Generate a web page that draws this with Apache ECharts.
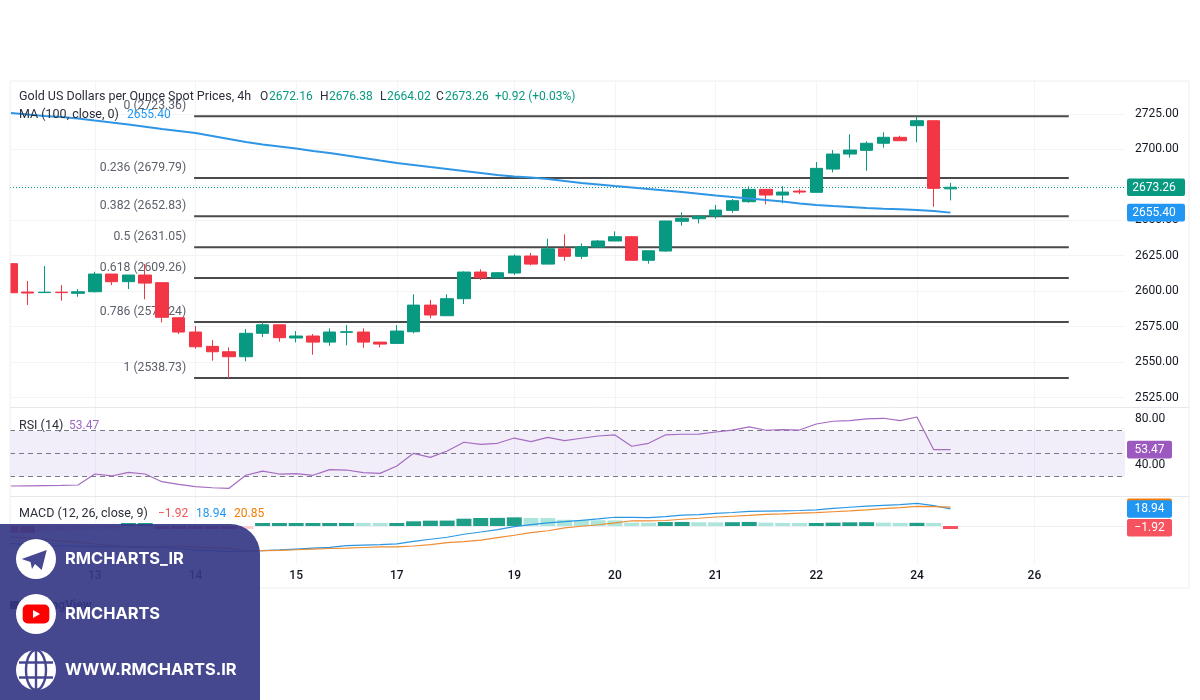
<!DOCTYPE html>
<html>
<head>
<meta charset="utf-8">
<title>Gold US Dollars per Ounce Spot Prices</title>
<script src="https://cdn.jsdelivr.net/npm/echarts@6/dist/echarts.min.js"></script>
<style>
    html, body { margin: 0; padding: 0; background: #fff; }
    #chart { width: 1200px; height: 700px; }
</style>
</head>
<body>
<div id="chart"></div>
<script>
// 4h bars
var openPrices = [
    2619.4, 2599.4, 2599.0, 2599.3, 2598.5, 2599.6, 2612.1, 2606.7, 2611.4, 2606.0,
    2581.3, 2571.2, 2561.1, 2557.3, 2553.8, 2570.3, 2576.3, 2567.0, 2568.4, 2564.1,
    2571.0, 2571.2, 2564.1, 2563.2, 2571.4, 2590.2, 2582.7, 2594.7, 2613.5, 2609.5,
    2612.8, 2624.8, 2619.1, 2629.9, 2624.6, 2631.1, 2635.4, 2638.4, 2621.8, 2628.3,
    2649.3, 2651.1, 2653.0, 2657.0, 2663.1, 2671.8, 2667.8, 2670.6, 2669.7, 2686.1,
    2696.7, 2699.3, 2704.3, 2708.5, 2716.7, 2720.2, 2672.16
];
var closePrices = [
    2598.9, 2598.7, 2599.3, 2599.0, 2599.6, 2612.1, 2606.7, 2611.4, 2605.7, 2581.6,
    2571.2, 2560.8, 2557.3, 2553.8, 2570.3, 2576.3, 2567.2, 2568.4, 2564.1, 2571.2,
    2571.4, 2564.1, 2562.7, 2571.9, 2590.2, 2583.2, 2594.7, 2613.5, 2609.5, 2613.0,
    2624.8, 2619.1, 2629.9, 2624.6, 2631.3, 2635.4, 2638.4, 2621.8, 2628.5, 2649.5,
    2651.4, 2652.8, 2657.2, 2663.8, 2671.8, 2667.8, 2669.9, 2669.9, 2686.6, 2696.7,
    2699.5, 2704.3, 2708.5, 2706.1, 2720.2, 2672.5, 2673.26
];
var lowPrices = [
    2598.9, 2590.2, 2598.7, 2593.3, 2596.1, 2599.2, 2604.3, 2601.5, 2594.3, 2578.0,
    2569.8, 2559.4, 2551.0, 2538.7, 2550.5, 2567.7, 2564.4, 2563.9, 2555.2, 2561.5,
    2561.8, 2560.1, 2560.4, 2563.2, 2570.3, 2580.9, 2582.7, 2590.9, 2607.9, 2609.1,
    2611.4, 2618.2, 2619.1, 2621.5, 2622.7, 2631.1, 2635.4, 2621.8, 2619.4, 2627.8,
    2646.2, 2647.8, 2651.1, 2655.3, 2662.4, 2661.2, 2661.9, 2668.5, 2669.7, 2683.8,
    2694.1, 2684.9, 2701.2, 2706.1, 2705.0, 2659.6, 2664.02
];
var highPrices = [
    2619.4, 2607.2, 2617.7, 2604.3, 2601.5, 2613.7, 2612.1, 2611.4, 2619.1, 2606.0,
    2581.3, 2575.4, 2565.5, 2560.4, 2573.3, 2578.0, 2576.3, 2571.9, 2569.8, 2573.8,
    2576.1, 2573.8, 2564.1, 2576.1, 2597.8, 2593.8, 2597.8, 2614.0, 2615.4, 2613.5,
    2626.0, 2626.9, 2637.0, 2640.1, 2633.7, 2636.1, 2642.2, 2638.9, 2628.5, 2649.5,
    2655.6, 2653.7, 2660.8, 2665.0, 2673.9, 2671.8, 2674.1, 2672.2, 2691.1, 2699.5,
    2710.6, 2705.7, 2712.0, 2709.6, 2723.3, 2720.2, 2676.38
];
var maValues = [
    2725.6, 2724.6, 2723.5, 2722.8, 2721.8, 2720.3, 2718.9, 2717.5, 2715.9, 2714.3,
    2712.9, 2711.5, 2709.4, 2707.3, 2705.2, 2703.4, 2702.0, 2700.6, 2698.8, 2697.4,
    2695.7, 2693.9, 2692.1, 2690.4, 2689.0, 2687.5, 2686.1, 2684.7, 2683.3, 2681.9,
    2680.8, 2680.1, 2679.1, 2677.7, 2676.3, 2675.2, 2674.1, 2673.1, 2672.0, 2671.0,
    2669.9, 2668.7, 2667.5, 2666.4, 2665.3, 2664.3, 2663.2, 2661.8, 2660.8, 2660.0,
    2659.3, 2658.6, 2658.1, 2657.7, 2657.2, 2656.5, 2655.4
];
var rsiValues = [
    21.6, 21.8, 22.0, 22.1, 22.5, 32.1, 30.4, 33.6, 32.1, 25.4,
    23.1, 21.0, 20.1, 19.6, 31.0, 34.7, 32.1, 32.4, 31.0, 35.9,
    35.6, 33.3, 32.7, 39.1, 50.2, 46.7, 52.3, 59.9, 58.1, 59.0,
    63.6, 60.4, 64.2, 61.3, 63.4, 65.4, 66.3, 56.4, 59.0, 66.3,
    66.9, 67.1, 68.9, 70.6, 73.3, 70.4, 70.9, 70.6, 75.9, 78.3,
    78.8, 80.3, 80.9, 78.8, 82.0, 53.4, 53.47
];
var histValues = [
    -7.5, -7.6, -6.5, -5.5, -4.5, -3.0, -1.5, 0.5, 0.6, -1.0,
    -2.5, -3.0, -3.2, -3.3, -1.0, 0.4, 0.5, 0.8, 1.0, 1.3,
    2.8, 2.7, 2.6, 3.3, 5.2, 5.9, 6.0, 8.1, 8.9, 9.0,
    9.6, 8.9, 8.8, 6.9, 6.6, 6.4, 6.2, 3.7, 3.6, 4.4,
    4.5, 4.1, 4.0, 4.2, 4.5, 3.7, 3.4, 3.0, 3.1, 3.7,
    4.1, 4.2, 3.7, 3.4, 3.5, 1.1, -1.92
];
var macdValues = [
    -19.5, -20.5, -21.5, -22.0, -22.5, -23.0, -23.0, -23.0, -23.0, -23.5,
    -25.0, -26.5, -27.5, -28.5, -28.0, -27.4, -26.6, -25.6, -24.6, -23.7,
    -21.8, -21.2, -20.6, -19.8, -17.0, -14.7, -12.5, -9.2, -6.7, -4.0,
    -0.7, 1.5, 3.5, 4.8, 6.3, 7.8, 9.7, 9.5, 9.3, 10.5,
    12.0, 12.7, 14.0, 15.0, 16.2, 16.6, 16.9, 17.2, 17.9, 19.5,
    20.8, 22.0, 23.0, 23.8, 25.2, 22.6, 18.94
];
var signalValues = [
    -12.0, -13.5, -15.0, -16.5, -18.0, -20.0, -21.5, -23.5, -23.6, -22.5,
    -22.5, -23.5, -24.3, -25.2, -27.0, -27.4, -27.0, -26.4, -25.6, -25.0,
    -24.6, -23.9, -23.2, -23.1, -22.2, -20.6, -18.5, -17.3, -15.6, -13.0,
    -10.3, -7.4, -5.3, -2.1, -0.3, 1.4, 3.5, 5.8, 5.7, 6.1,
    7.5, 8.6, 10.0, 10.8, 11.7, 12.9, 13.5, 14.2, 14.8, 15.8,
    16.7, 17.8, 19.3, 20.4, 21.7, 21.5, 20.85
];
var fibRatios = ['0', '0.236', '0.382', '0.5', '0.618', '0.786', '1'];
var fibPrices = [2723.36, 2679.79, 2652.83, 2631.05, 2609.26, 2578.24, 2538.73];
var fibSpan = [10.92, 63.05];
var dayTicks = [5, 11, 17, 23, 30, 36, 42, 48, 54, 61];
var dayLabels = ['13', '14', '15', '17', '19', '20', '21', '22', '24', '26'];
var priceTicks = [2525, 2550, 2575, 2600, 2625, 2650, 2675, 2700, 2725];
var rsiTicks = [40, 80];
var rsiLevels = [30, 50, 70];

var FONT = 'Roboto';
var UP = '#089981';
var DOWN = '#f23645';
var GRID_LINE = '#f3f4f6';

function withIndex(values) {
    return values.map(function (v, i) { return [i, v]; });
}

function histColor(params) {
    var i = params.dataIndex;
    var v = histValues[i];
    var prev = i > 0 ? histValues[i - 1] : v;
    if (v >= 0) {
        return v >= prev ? '#1f9e88' : '#ace5dc';
    }
    return v <= prev ? '#f7525f' : '#ffcdd2';
}

function makeXAxis(gridIndex, showLabels) {
    return {
        type: 'value',
        gridIndex: gridIndex,
        min: -0.055,
        max: 66.4,
        axisLine: { show: false },
        axisTick: { show: false, customValues: dayTicks },
        splitLine: { show: true, lineStyle: { color: GRID_LINE, width: 1 } },
        axisLabel: {
            show: showLabels,
            customValues: dayTicks,
            margin: 7,
            color: '#131722',
            fontFamily: FONT,
            fontSize: 12,
            fontWeight: 500,
            formatter: function (v) {
                return dayLabels[dayTicks.indexOf(v)];
            }
        }
    };
}

function makeFibSeries() {
    return fibPrices.map(function (price, i) {
        return {
            type: 'line',
            z: 2,
            silent: true,
            symbol: 'circle',
            symbolSize: 0,
            showSymbol: true,
            lineStyle: { color: '#4a4a4a', width: 2 },
            itemStyle: { color: '#4a4a4a' },
            data: [
                {
                    value: [fibSpan[0], price],
                    label: {
                        show: true,
                        position: 'left',
                        offset: [-3, -10],
                        color: '#5d606b',
                        fontFamily: FONT,
                        fontSize: 12.2,
                        formatter: fibRatios[i] + ' (' + price.toFixed(2) + ')'
                    }
                },
                { value: [fibSpan[1], price] }
            ]
        };
    });
}

function legendText(x, y, text, color, size) {
    return {
        type: 'text',
        z: 20,
        silent: true,
        style: {
            x: x,
            y: y,
            text: text,
            fill: color,
            font: (size || 12) + 'px ' + FONT,
            textVerticalAlign: 'middle'
        }
    };
}

function axisTag(yAxisIndex, value, text, color, width, z) {
    var y = chart.convertToPixel({ yAxisIndex: yAxisIndex }, value);
    return [
        {
            type: 'rect',
            z: z,
            silent: true,
            shape: { x: 1127, y: y - 8.8, width: width, height: 17.6, r: 2 },
            style: { fill: color }
        },
        {
            type: 'text',
            z: z,
            zlevel: 0,
            silent: true,
            style: {
                x: 1127 + width / 2 + (width > 50 ? -2 : 0),
                y: y + 0.5,
                text: text,
                fill: '#fff',
                font: '12px ' + FONT,
                textAlign: 'center',
                textVerticalAlign: 'middle'
            }
        }
    ];
}

function makeGraphic() {
    var items = [
        // the first bar is cut by the pane edge
        { type: 'rect', z: 4, silent: true, shape: { x: 0, y: 81, width: 10, height: 507 },
            style: { fill: '#fff' } },
        // pane frame and separators
        { type: 'rect', z: 5, silent: true, shape: { x: 10, y: 81, width: 1179, height: 507 },
            style: { fill: 'none', stroke: '#eceef2', lineWidth: 1 } },
        { type: 'line', z: 5, silent: true, shape: { x1: 10, y1: 407.5, x2: 1189, y2: 407.5 },
            style: { stroke: '#e6e8ec', lineWidth: 1 } },
        { type: 'line', z: 5, silent: true, shape: { x1: 10, y1: 496.5, x2: 1189, y2: 496.5 },
            style: { stroke: '#e6e8ec', lineWidth: 1 } },

        legendText(19, 97, 'Gold US Dollars per Ounce Spot Prices, 4h', '#2a2e39', 12.5),
        legendText(260, 97, 'O', '#2a2e39'),
        legendText(269, 97, '2672.16', UP),
        legendText(320, 97, 'H', '#2a2e39'),
        legendText(329, 97, '2676.38', UP),
        legendText(380, 97, 'L', '#2a2e39'),
        legendText(387, 97, '2664.02', UP),
        legendText(436, 97, 'C', '#2a2e39'),
        legendText(445, 97, '2673.26', UP),
        legendText(495, 97, '+0.92 (+0.03%)', UP),
        legendText(19, 115, 'MA (100, close, 0)', '#2a2e39', 12.5),
        legendText(127, 115, '2655.40', '#2196f3'),
        legendText(19, 426, 'RSI (14)', '#2a2e39', 12.5),
        legendText(69, 426, '53.47', '#9c6bc0'),
        legendText(19, 514, 'MACD (12, 26, close, 9)', '#2a2e39', 12.5),
        legendText(158, 514, '\u22121.92', '#ef5350'),
        legendText(196, 514, '18.94', '#2196f3'),
        legendText(234, 514, '20.85', '#f57c00')
    ];

    items = items.concat(
        axisTag(0, closePrices[closePrices.length - 1], '2673.26', UP, 58, 30),
        axisTag(0, maValues[maValues.length - 1], '2655.40', '#2196f3', 58, 30),
        axisTag(1, rsiValues[rsiValues.length - 1], '53.47', '#9c59c0', 45, 30),
        axisTag(2, signalValues[signalValues.length - 1], '20.85', '#f57c00', 45, 28),
        axisTag(2, macdValues[macdValues.length - 1], '18.94', '#2196f3', 45, 30),
        axisTag(2, histValues[histValues.length - 1], '\u22121.92', '#f7525f', 45, 30)
    );

    // TradingView credit, mostly hidden under the banner
    items.push({ type: 'rect', z: 25, silent: true, shape: { x: 10, y: 601, width: 9, height: 8 },
        style: { fill: '#131722' } });
    items.push({ type: 'text', z: 25, silent: true,
        style: { x: 24, y: 606, text: 'TradingView', fill: '#131722', font: 'bold 12px ' + FONT, textVerticalAlign: 'middle' } });

    // banner
    var bannerText = [['RMCHARTS_IR', 559], ['RMCHARTS', 614], ['WWW.RMCHARTS.IR', 670]];
    items.push({ type: 'rect', z: 40, silent: true, shape: { x: 0, y: 524, width: 260, height: 176, r: [0, 30, 0, 0] },
        style: { fill: '#353786', opacity: 0.92 } });
    bannerText.forEach(function (row) {
        items.push({ type: 'circle', z: 41, silent: true, shape: { cx: 36, cy: row[1], r: 20 }, style: { fill: '#fff' } });
        items.push({ type: 'text', z: 42, silent: true,
            style: { x: 65, y: row[1], text: row[0], fill: '#fff', font: '700 16.4px Inter', textVerticalAlign: 'middle' } });
    });
    items.push({ type: 'polygon', z: 42, silent: true,
        shape: { points: [[21.7, 559], [46.7, 550], [41.7, 570], [35, 564], [32, 569], [30.5, 562]] },
        style: { fill: '#454790' } });
    items.push({ type: 'rect', z: 42, silent: true, shape: { x: 22.7, y: 604.5, width: 26.6, height: 19, r: 5 },
        style: { fill: '#f00' } });
    items.push({ type: 'polygon', z: 43, silent: true,
        shape: { points: [[33, 610], [33, 618], [40, 614]] }, style: { fill: '#fff' } });
    var globeLine = { fill: 'none', stroke: '#454790', lineWidth: 2.4 };
    items.push({ type: 'ellipse', z: 42, silent: true, shape: { cx: 36, cy: 670, rx: 10, ry: 20 }, style: globeLine });
    items.push({ type: 'line', z: 42, silent: true, shape: { x1: 36, y1: 650, x2: 36, y2: 690 }, style: globeLine });
    items.push({ type: 'line', z: 42, silent: true, shape: { x1: 19, y1: 662.5, x2: 53, y2: 662.5 }, style: globeLine });
    items.push({ type: 'line', z: 42, silent: true, shape: { x1: 19, y1: 677.5, x2: 53, y2: 677.5 }, style: globeLine });
    return items;
}

var chart = echarts.init(document.getElementById('chart'), null, { renderer: 'canvas' });

var candleData = openPrices.map(function (o, i) {
    return [i, o, closePrices[i], lowPrices[i], highPrices[i]];
});

var priceLabel = {
    customValues: priceTicks,
    margin: 10,
    padding: [2, 0, 0, 0],
    color: '#131722',
    fontFamily: FONT,
    fontSize: 12,
    formatter: function (v) { return v.toFixed(2); }
};

var option = {
    animation: false,
    backgroundColor: '#fff',
    textStyle: { fontFamily: FONT },
    grid: [
        { left: 10, width: 1115, top: 81, height: 326.5 },
        { left: 10, width: 1115, top: 408, height: 88.7 },
        { left: 10, width: 1115, top: 497, height: 66 }
    ],
    xAxis: [makeXAxis(0, false), makeXAxis(1, false), makeXAxis(2, true)],
    yAxis: [
        {
            type: 'value',
            gridIndex: 0,
            position: 'right',
            min: 2518,
            max: 2748.2,
            axisLine: { show: false },
            axisTick: { show: false, customValues: priceTicks },
            splitLine: { show: true, lineStyle: { color: GRID_LINE } },
            axisLabel: priceLabel
        },
        {
            type: 'value',
            gridIndex: 1,
            position: 'right',
            min: 12.25,
            max: 89.9,
            axisLine: { show: false },
            axisTick: { show: false, customValues: rsiTicks },
            splitLine: { show: false },
            axisLabel: {
                customValues: rsiTicks,
                margin: 10,
                padding: [2, 0, 0, 0],
                color: '#131722',
                fontFamily: FONT,
                fontSize: 12,
                formatter: function (v) { return v.toFixed(2); }
            }
        },
        {
            type: 'value',
            gridIndex: 2,
            position: 'right',
            min: -41.1,
            max: 32.2,
            axisLine: { show: false },
            axisTick: { show: false, customValues: [0] },
            splitLine: { show: true, lineStyle: { color: '#eceef2' } },
            axisLabel: { show: false }
        }
    ],
    series: makeFibSeries().concat([
        {
            type: 'candlestick',
            name: 'Gold',
            xAxisIndex: 0,
            yAxisIndex: 0,
            z: 3,
            barWidth: 13,
            encode: { x: 0, y: [1, 2, 3, 4] },
            itemStyle: {
                color: UP,
                color0: DOWN,
                borderColor: UP,
                borderColor0: DOWN,
                borderWidth: 1
            },
            data: candleData,
            markLine: {
                silent: true,
                symbol: 'none',
                z: 1,
                label: { show: false },
                lineStyle: { color: UP, type: [1, 2], width: 1 },
                data: [{ yAxis: closePrices[closePrices.length - 1] }]
            }
        },
        {
            type: 'line',
            name: 'MA (100, close, 0)',
            xAxisIndex: 0,
            yAxisIndex: 0,
            z: 6,
            showSymbol: false,
            lineStyle: { color: '#2f96e6', width: 2 },
            data: withIndex(maValues)
        },
        {
            type: 'line',
            name: 'RSI (14)',
            xAxisIndex: 1,
            yAxisIndex: 1,
            z: 6,
            showSymbol: false,
            lineStyle: { color: '#a56cc1', width: 1.2 },
            data: withIndex(rsiValues),
            markArea: {
                silent: true,
                itemStyle: { color: 'rgba(126,87,194,0.1)' },
                data: [[{ yAxis: rsiLevels[0] }, { yAxis: rsiLevels[2] }]]
            },
            markLine: {
                silent: true,
                symbol: 'none',
                label: { show: false },
                lineStyle: { color: '#787b86', type: [5, 4], width: 1 },
                data: rsiLevels.map(function (v) { return { yAxis: v }; })
            }
        },
        {
            type: 'bar',
            name: 'Histogram',
            xAxisIndex: 2,
            yAxisIndex: 2,
            z: 3,
            barWidth: 15,
            barMinHeight: 3,
            itemStyle: { color: histColor },
            data: withIndex(histValues)
        },
        {
            type: 'line',
            name: 'MACD',
            xAxisIndex: 2,
            yAxisIndex: 2,
            z: 6,
            showSymbol: false,
            lineStyle: { color: '#2b97e3', width: 1.2 },
            data: withIndex(macdValues)
        },
        {
            type: 'line',
            name: 'Signal',
            xAxisIndex: 2,
            yAxisIndex: 2,
            z: 6,
            showSymbol: false,
            lineStyle: { color: '#ee8c33', width: 1.2 },
            data: withIndex(signalValues)
        }
    ])
};

chart.setOption(option);
chart.setOption({ graphic: makeGraphic() });
</script>
</body>
</html>
